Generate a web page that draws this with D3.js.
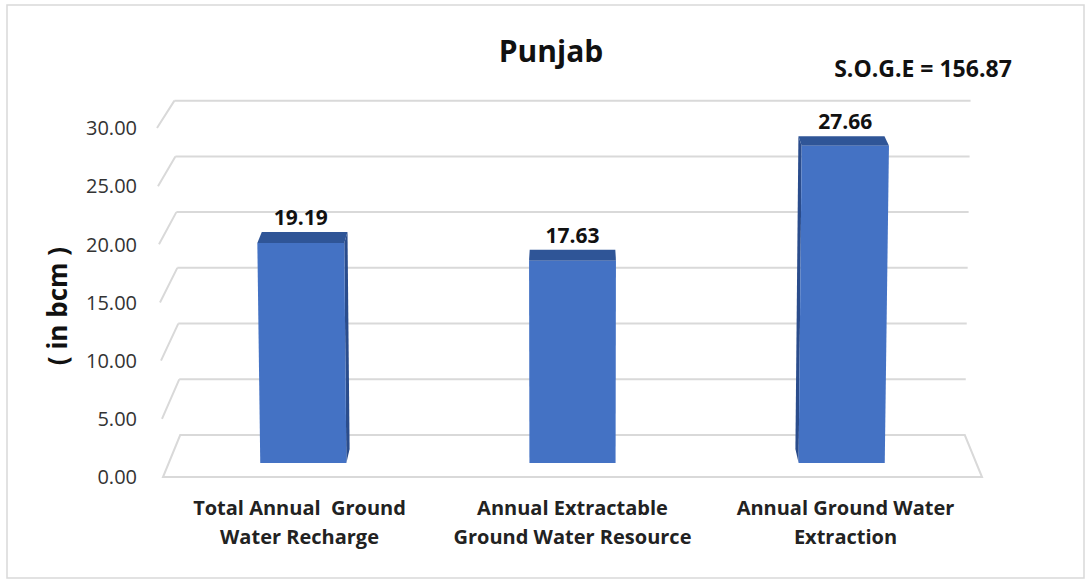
<!DOCTYPE html>
<html>
<head>
<meta charset="utf-8">
<script src="https://cdn.jsdelivr.net/npm/d3@7"></script>
<style>
  html, body { margin: 0; padding: 0; background: #fff; }
  svg { display: block; font-family: "Open Sans", "Liberation Sans", sans-serif; }
</style>
</head>
<body>
<svg id="chart" width="1088" height="583"></svg>
<script>
// Data
const categoryLines = [
  ["Total Annual  Ground", "Water Recharge"],
  ["Annual Extractable", "Ground Water Resource"],
  ["Annual Ground Water", "Extraction"]
];
const categories = categoryLines.map(l => l.join(" "));
const values = [19.19, 17.63, 27.66];
const tickValues = [0, 5, 10, 15, 20, 25, 30];
const chartTitle = "Punjab";
const sogeLabel = "S.O.G.E = 156.87";
const yAxisTitle = "( in bcm )";

const svg = d3.select("#chart");
const W = 1088, H = 583;

// Outer chart frame
svg.append("rect")
  .attr("x", 7).attr("y", 5).attr("width", 1077).attr("height", 573)
  .attr("fill", "#fff").attr("stroke", "#d9d9d9").attr("stroke-width", 1.5);

// Front-plane scales
const x = d3.scaleBand().domain(categories).range([163, 982])
  .paddingInner(0.68).paddingOuter(0.34);
const y = d3.scaleLinear().domain([0, 30]).range([477, 128]);

// Perspective: points recede toward a vanishing point as depth z goes 0 -> 1
const Vx = (x.range()[0] + x.range()[1]) / 2;
const Vy = -523;
const depthShrink = 0.042;   // scale loss at the back wall
const lean = 4.2e-5;         // slight convergence of verticals downward
function proj(px, v, z) {
  const y0 = y(v);
  const x0 = Vx + (px - Vx) * (1 + lean * (y(0) - y0));
  const f = 1 - z * depthShrink;
  return [Vx + (x0 - Vx) * f, Vy + (y0 - Vy) * f];
}
const line = pts => "M" + pts.map(p => p.join(",")).join("L") + "Z";
const seg = (a, b) => "M" + a.join(",") + "L" + b.join(",");

const L = x.range()[0], R = x.range()[1];
const gridColor = "#d9d9d9";

// Floor
svg.append("path")
  .attr("d", line([proj(L, 0, 0), proj(R, 0, 0), proj(R, 0, 1), proj(L, 0, 1)]))
  .attr("fill", "none").attr("stroke", gridColor).attr("stroke-width", 2);

// Gridlines on back wall and side wall
const grid = svg.append("g");
tickValues.filter(t => t > 0).forEach(t => {
  grid.append("path")
    .attr("d", seg(proj(L, t, 0), proj(L, t, 1)) + seg(proj(L, t, 1), proj(R, t, 1)))
    .attr("fill", "none").attr("stroke", gridColor).attr("stroke-width", 2);
});

// Y tick labels
const fmt = d3.format(".2f");
svg.append("g").selectAll("text").data(tickValues).join("text")
  .attr("x", 137)
  .attr("y", d => proj(L, d, 0)[1])
  .attr("dy", "0.36em")
  .attr("text-anchor", "end")
  .attr("font-size", 20)
  .attr("fill", "#333")
  .text(d => fmt(d));

// Bars
const bw = x.bandwidth();
const z1 = 1 / 3, z2 = 2 / 3;
const bars = svg.append("g");
categories.forEach((c, i) => {
  const v = values[i];
  const xl = x(c), xr = xl + bw;
  const g = bars.append("g");
  const cx = xl + bw / 2;
  if (Math.abs(cx - Vx) > 1) {
    const sx = cx < Vx ? xr : xl;
    g.append("path")
      .attr("d", line([proj(sx, 0, z1), proj(sx, 0, z2), proj(sx, v, z2), proj(sx, v, z1)]))
      .attr("fill", "#2a4c8c");
  }
  g.append("path")
    .attr("d", line([proj(xl, v, z1), proj(xr, v, z1), proj(xr, v, z2), proj(xl, v, z2)]))
    .attr("fill", "#2f5597");
  g.append("path")
    .attr("d", line([proj(xl, 0, z1), proj(xr, 0, z1), proj(xr, v, z1), proj(xl, v, z1)]))
    .attr("fill", "#4472c4");
  const top = proj(cx, v, z2);
  g.append("text")
    .attr("x", proj(cx, v, z1)[0])
    .attr("y", top[1] - 7)
    .attr("text-anchor", "middle")
    .attr("font-size", 21).attr("font-weight", 700).attr("fill", "#111")
    .text(fmt(v));
});

// Category labels
const xl = svg.append("g");
categories.forEach((c, i) => {
  const t = xl.append("text")
    .attr("text-anchor", "middle")
    .attr("font-size", 20).attr("font-weight", 700).attr("fill", "#222")
    .attr("xml:space", "preserve");
  categoryLines[i].forEach((ln, j) => {
    t.append("tspan")
      .attr("x", x(c) + bw / 2)
      .attr("y", 515 + j * 29)
      .text(ln);
  });
});

// Titles
svg.append("text")
  .attr("x", 551).attr("y", 62)
  .attr("text-anchor", "middle")
  .attr("font-size", 30).attr("font-weight", 700).attr("fill", "#111")
  .text(chartTitle);

svg.append("text")
  .attr("x", 923).attr("y", 77)
  .attr("text-anchor", "middle")
  .attr("font-size", 23).attr("font-weight", 700).attr("fill", "#111")
  .text(sogeLabel);

svg.append("text")
  .attr("transform", "translate(67,306) rotate(-90)")
  .attr("text-anchor", "middle")
  .attr("font-size", 26).attr("font-weight", 700).attr("fill", "#111")
  .text(yAxisTitle);
</script>
</body>
</html>
